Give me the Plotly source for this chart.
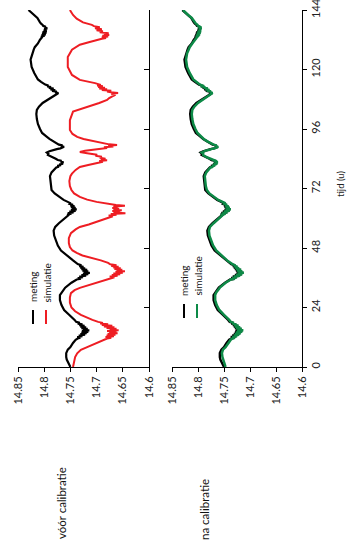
import plotly.graph_objects as go

# ---------------- data ----------------
t_meting = [0, 1.6, 3, 4, 5.6, 7, 8, 9.7, 11, 11.5,
            11.8, 12.1, 12.4, 12.7, 13.0, 13.3, 13.6, 13.9, 14.2, 14.5,
            14.8, 15.1, 15.4, 15.7, 16.0, 16.3, 16.6, 16.9, 17.2, 17.5,
            17.8, 18.2, 19, 21, 23, 25, 27, 29, 30, 32,
            34, 35, 35.3, 35.6, 35.9, 36.2, 36.5, 36.8, 37.1, 37.4,
            37.7, 38.0, 38.3, 38.6, 38.9, 39.2, 39.5, 39.8, 40.1, 40.4,
            40.7, 41.0, 41.5, 43, 45, 47, 49, 51, 53, 55,
            56.5, 58, 60, 61.2, 61.5, 61.8, 62.1, 62.4, 62.7, 63.0,
            63.3, 63.6, 63.9, 64.2, 64.5, 64.8, 65.1, 65.4, 65.8, 66.2,
            67.4, 68.6, 70, 71.4, 73, 75, 77, 78.5, 80, 80.5,
            80.8, 81.1, 81.4, 81.7, 82.0, 82.3, 82.6, 82.9, 83.2, 83.5,
            84, 84.5, 85, 85.5, 86, 86.5, 87, 87.3, 87.6, 87.9,
            88.2, 88.5, 88.8, 89.1, 89.4, 89.7, 90.2, 91, 92, 93,
            94.4, 96, 98, 100, 102, 103.7, 105, 106.5, 107.7, 108.5,
            109.5, 110.2, 110.5, 110.8, 111.1, 111.4, 111.7, 112.0, 112.3, 112.6,
            112.9, 113.2, 113.5, 113.9, 115, 116, 118.6, 121, 124, 126.5,
            128, 129, 130.5, 132, 133, 133.3, 133.6, 133.9, 134.2, 134.5,
            134.8, 135.1, 135.4, 135.7, 136.0, 136.3, 136.6, 136.9, 137.2, 137.6,
            138, 138.5, 139, 140.8, 142, 143, 144]
v_meting = [14.750, 14.754, 14.757, 14.758, 14.758, 14.755, 14.750, 14.745, 14.740, 14.736,
            14.731, 14.737, 14.727, 14.734, 14.722, 14.731, 14.719, 14.729, 14.716, 14.728,
            14.714, 14.726, 14.717, 14.729, 14.720, 14.731, 14.723, 14.733, 14.727, 14.736,
            14.732, 14.739, 14.742, 14.752, 14.762, 14.767, 14.770, 14.770, 14.767, 14.760,
            14.748, 14.740, 14.738, 14.730, 14.736, 14.726, 14.733, 14.720, 14.729, 14.716,
            14.726, 14.713, 14.724, 14.716, 14.727, 14.718, 14.729, 14.722, 14.731, 14.725,
            14.733, 14.729, 14.736, 14.745, 14.757, 14.768, 14.774, 14.778, 14.781, 14.782,
            14.779, 14.772, 14.762, 14.754, 14.756, 14.748, 14.755, 14.744, 14.752, 14.740,
            14.749, 14.738, 14.747, 14.740, 14.749, 14.742, 14.750, 14.745, 14.752, 14.751,
            14.763, 14.771, 14.780, 14.786, 14.787, 14.788, 14.789, 14.786, 14.780, 14.777,
            14.772, 14.775, 14.768, 14.771, 14.764, 14.768, 14.763, 14.769, 14.767, 14.774,
            14.778, 14.784, 14.788, 14.793, 14.792, 14.795, 14.790, 14.786, 14.779, 14.776,
            14.769, 14.764, 14.762, 14.768, 14.765, 14.772, 14.776, 14.783, 14.790, 14.796,
            14.804, 14.808, 14.812, 14.814, 14.815, 14.814, 14.810, 14.803, 14.793, 14.788,
            14.780, 14.775, 14.773, 14.779, 14.776, 14.785, 14.779, 14.788, 14.782, 14.791,
            14.787, 14.794, 14.792, 14.798, 14.806, 14.812, 14.819, 14.824, 14.826, 14.823,
            14.820, 14.818, 14.812, 14.808, 14.804, 14.806, 14.799, 14.805, 14.797, 14.804,
            14.796, 14.803, 14.795, 14.801, 14.796, 14.800, 14.794, 14.799, 14.797, 14.802,
            14.803, 14.806, 14.808, 14.813, 14.820, 14.826, 14.830]

t_sim_voor = [0, 2, 4, 5.5, 6.9, 8, 9.7, 11, 11.5, 11.8,
              12.1, 12.4, 12.7, 13.0, 13.3, 13.6, 13.9, 14.2, 14.5, 14.8,
              15.1, 15.4, 15.7, 16.0, 16.3, 16.6, 16.9, 17.2, 17.5, 17.8,
              18.2, 19, 19.8, 21, 22.5, 24, 26, 28, 29.8, 31,
              31.9, 33, 33.9, 35, 35.8, 36.2, 36.5, 36.8, 37.1, 37.4,
              37.7, 38.0, 38.3, 38.6, 38.9, 39.2, 39.5, 39.8, 40.1, 40.4,
              40.7, 41.0, 41.4, 42, 43, 44, 45, 46, 47, 48.4,
              50, 52, 54, 55.5, 56.5, 57.5, 58.5, 59.5, 60.3, 60.8,
              61.1, 61.4, 61.7, 62.0, 62.3, 62.6, 62.9, 63.2, 63.5, 63.8,
              64.1, 64.4, 64.7, 65.0, 65.3, 65.6, 66, 66.6, 67.5, 68.6,
              70, 71.4, 73, 75, 77, 78, 79.5, 80.7, 81.5, 82.3,
              82.8, 83.1, 83.4, 83.7, 84.0, 84.4, 84.8, 85.2, 85.6, 86.2,
              86.7, 87.2, 87.6, 88.0, 88.3, 88.6, 88.9, 89.2, 89.5, 89.8,
              90.2, 90.8, 91.5, 92, 92.8, 94, 95.6, 99.6, 103, 104,
              105, 106.5, 107.7, 108.5, 109.2, 109.8, 110.2, 110.5, 110.8, 111.1,
              111.4, 111.7, 112.0, 112.3, 112.6, 112.9, 113.2, 113.5, 113.8, 114.5,
              115.8, 117, 117.8, 121, 125, 128, 129, 130, 131, 132,
              132.4, 132.7, 133.0, 133.3, 133.6, 133.9, 134.2, 134.6, 135.0, 135.4,
              135.8, 136.2, 136.6, 137.0, 137.5, 138, 139, 140.5, 142, 144]
v_sim_voor = [14.745, 14.743, 14.741, 14.737, 14.730, 14.718, 14.700, 14.684, 14.680, 14.672,
              14.683, 14.667, 14.681, 14.664, 14.679, 14.660, 14.676, 14.662, 14.680, 14.658,
              14.675, 14.662, 14.681, 14.666, 14.686, 14.670, 14.690, 14.678, 14.693, 14.688,
              14.697, 14.708, 14.716, 14.730, 14.741, 14.748, 14.751, 14.751, 14.749, 14.742,
              14.732, 14.715, 14.700, 14.683, 14.672, 14.666, 14.675, 14.660, 14.671, 14.655,
              14.668, 14.650, 14.664, 14.646, 14.662, 14.651, 14.666, 14.654, 14.668, 14.658,
              14.672, 14.662, 14.674, 14.678, 14.692, 14.712, 14.727, 14.738, 14.746, 14.751,
              14.753, 14.753, 14.749, 14.740, 14.732, 14.715, 14.700, 14.685, 14.674, 14.669,
              14.677, 14.662, 14.673, 14.645, 14.668, 14.655, 14.670, 14.652, 14.668, 14.657,
              14.670, 14.660, 14.668, 14.646, 14.663, 14.672, 14.682, 14.700, 14.718, 14.732,
              14.743, 14.748, 14.751, 14.752, 14.750, 14.747, 14.740, 14.732, 14.716, 14.700,
              14.688, 14.695, 14.680, 14.692, 14.683, 14.694, 14.690, 14.702, 14.699, 14.718,
              14.732, 14.722, 14.705, 14.688, 14.680, 14.686, 14.668, 14.678, 14.661, 14.676,
              14.685, 14.699, 14.715, 14.725, 14.737, 14.746, 14.751, 14.751, 14.745, 14.730,
              14.713, 14.695, 14.680, 14.676, 14.670, 14.664, 14.672, 14.659, 14.673, 14.680,
              14.672, 14.690, 14.680, 14.695, 14.684, 14.697, 14.688, 14.699, 14.692, 14.703,
              14.732, 14.742, 14.747, 14.755, 14.755, 14.747, 14.740, 14.732, 14.715, 14.699,
              14.690, 14.682, 14.690, 14.678, 14.689, 14.676, 14.686, 14.677, 14.694, 14.688,
              14.700, 14.690, 14.703, 14.694, 14.705, 14.709, 14.726, 14.738, 14.745, 14.751]

t_sim_na = list(t_meting)
v_sim_na = [14.747, 14.750, 14.752, 14.753, 14.754, 14.752, 14.747, 14.742, 14.737, 14.734,
            14.729, 14.734, 14.725, 14.731, 14.721, 14.729, 14.718, 14.727, 14.715, 14.725,
            14.713, 14.724, 14.716, 14.727, 14.719, 14.729, 14.722, 14.731, 14.726, 14.734,
            14.731, 14.737, 14.740, 14.750, 14.759, 14.764, 14.767, 14.767, 14.765, 14.758,
            14.747, 14.739, 14.737, 14.729, 14.734, 14.725, 14.731, 14.719, 14.727, 14.715,
            14.724, 14.712, 14.722, 14.715, 14.725, 14.717, 14.727, 14.721, 14.729, 14.724,
            14.731, 14.728, 14.734, 14.744, 14.755, 14.765, 14.771, 14.775, 14.778, 14.779,
            14.777, 14.770, 14.760, 14.753, 14.754, 14.747, 14.753, 14.743, 14.750, 14.739,
            14.747, 14.737, 14.745, 14.739, 14.747, 14.741, 14.748, 14.744, 14.750, 14.749,
            14.761, 14.769, 14.778, 14.783, 14.785, 14.786, 14.787, 14.784, 14.779, 14.776,
            14.771, 14.773, 14.767, 14.770, 14.763, 14.766, 14.762, 14.767, 14.766, 14.772,
            14.776, 14.782, 14.786, 14.790, 14.790, 14.793, 14.788, 14.785, 14.778, 14.775,
            14.768, 14.763, 14.761, 14.766, 14.764, 14.770, 14.775, 14.782, 14.789, 14.794,
            14.801, 14.805, 14.809, 14.811, 14.812, 14.811, 14.807, 14.800, 14.791, 14.786,
            14.779, 14.774, 14.772, 14.777, 14.775, 14.783, 14.778, 14.786, 14.781, 14.789,
            14.786, 14.792, 14.791, 14.796, 14.804, 14.809, 14.816, 14.821, 14.823, 14.821,
            14.818, 14.816, 14.811, 14.806, 14.802, 14.804, 14.798, 14.803, 14.796, 14.802,
            14.795, 14.801, 14.794, 14.799, 14.795, 14.798, 14.793, 14.797, 14.796, 14.800,
            14.801, 14.804, 14.806, 14.812, 14.819, 14.825, 14.829]

value_ticks = [14.85, 14.8, 14.75, 14.7, 14.65, 14.6]
value_labels = ["14.85", "14.8", "14.75", "14.7", "14.65", "14.6"]
time_ticks = [0, 24, 48, 72, 96, 120, 144]
panel_titles = ["vóór calibratie", "na calibratie"]
legend_names = ["meting", "simulatie"]
axis_title = "tijd (u)"

# ---------------- layout helpers (pixels) ----------------
W, H = 349, 560
def px(x):
    return x / W
def py(y):
    return 1 - y / H

FONT = "Lato, 'Open Sans', sans-serif"
BLACK = "#000000"
RED = "#ee1d23"
GREEN = "#0d8a47"

fig = go.Figure()

fig.add_trace(go.Scatter(x=v_meting, y=t_meting, mode="lines", line=dict(color=BLACK, width=2.2),
                         xaxis="x", yaxis="y", showlegend=False, hoverinfo="skip"))
fig.add_trace(go.Scatter(x=v_sim_voor, y=t_sim_voor, mode="lines", line=dict(color=RED, width=2),
                         xaxis="x", yaxis="y", showlegend=False, hoverinfo="skip"))
fig.add_trace(go.Scatter(x=v_meting, y=t_meting, mode="lines", line=dict(color=BLACK, width=2.4),
                         xaxis="x2", yaxis="y2", showlegend=False, hoverinfo="skip"))
fig.add_trace(go.Scatter(x=v_sim_na, y=t_sim_na, mode="lines", line=dict(color=GREEN, width=2.5),
                         xaxis="x2", yaxis="y2", showlegend=False, hoverinfo="skip"))

ydom = [py(367), py(10)]
common_x = dict(range=[14.85, 14.6], tickvals=value_ticks, ticktext=value_labels, tickangle=-90,
                showline=True, linecolor=BLACK, linewidth=1, ticks="outside", ticklen=4, tickcolor=BLACK,
                showgrid=False, zeroline=False, automargin=False, ticklabeloverflow="allow",
                tickfont=dict(family=FONT, size=11, color="#222"))
fig.update_layout(
    width=W, height=H, autosize=False,
    margin=dict(l=0, r=0, t=0, b=0, pad=0),
    paper_bgcolor="white", plot_bgcolor="white",
    xaxis=dict(domain=[px(18), px(149)], anchor="y", **common_x),
    xaxis2=dict(domain=[px(172), px(302)], anchor="y2", **common_x),
    yaxis=dict(domain=ydom, range=[0, 144], anchor="x", side="right", tickvals=time_ticks,
               showticklabels=False, showline=True, linecolor=BLACK, linewidth=1, automargin=False,
               ticks="inside", ticklen=5, tickcolor=BLACK, showgrid=False, zeroline=False),
    yaxis2=dict(domain=ydom, range=[0, 144], anchor="x2", side="right", tickvals=time_ticks,
                tickangle=-90, showline=True, linecolor=BLACK, linewidth=1, automargin=False,
                ticklabeloverflow="allow",
                ticks="outside", ticklen=4, tickcolor=BLACK, showgrid=False, zeroline=False,
                tickfont=dict(family=FONT, size=11, color="#222")),
)

anns = []
# panel titles (centred on their measured centres)
anns.append(dict(x=px(61), y=py(503), xref="paper", yref="paper", text=panel_titles[0], textangle=-90,
                 showarrow=False, xanchor="center", yanchor="middle", font=dict(family=FONT, size=11.5, color="#111")))
anns.append(dict(x=px(204), y=py(510), xref="paper", yref="paper", text=panel_titles[1], textangle=-90,
                 showarrow=False, xanchor="center", yanchor="middle", font=dict(family=FONT, size=11.5, color="#111")))
# axis title
anns.append(dict(x=px(341), y=py(184), xref="paper", yref="paper", text=axis_title, textangle=-90,
                 showarrow=False, xanchor="center", yanchor="middle", font=dict(family=FONT, size=9.5, color="#222")))

shapes = []
# legends (rotated)
legend_specs = [
    (33, 46, 304, 310, 324, BLACK, RED),
    (184, 197, 298, 304, 318, BLACK, GREEN),
]
for x1, x2, tb, l0, l1, c1, c2 in legend_specs:
    for xx, name, col in ((x1, legend_names[0], c1), (x2, legend_names[1], c2)):
        anns.append(dict(x=px(xx), y=py(tb), xref="paper", yref="paper", text=name, textangle=-90,
                         showarrow=False, xanchor="center", yanchor="bottom",
                         font=dict(family=FONT, size=10, color="#111")))
        shapes.append(dict(type="line", xref="paper", yref="paper", x0=px(xx), x1=px(xx),
                           y0=py(l0), y1=py(l1), line=dict(color=col, width=2)))

fig.update_layout(annotations=anns, shapes=shapes, hovermode=False)
fig.write_html("out.html", config={"displayModeBar": False, "staticPlot": True},
               post_script="document.body.style.margin='0';document.body.style.overflow='hidden';")
